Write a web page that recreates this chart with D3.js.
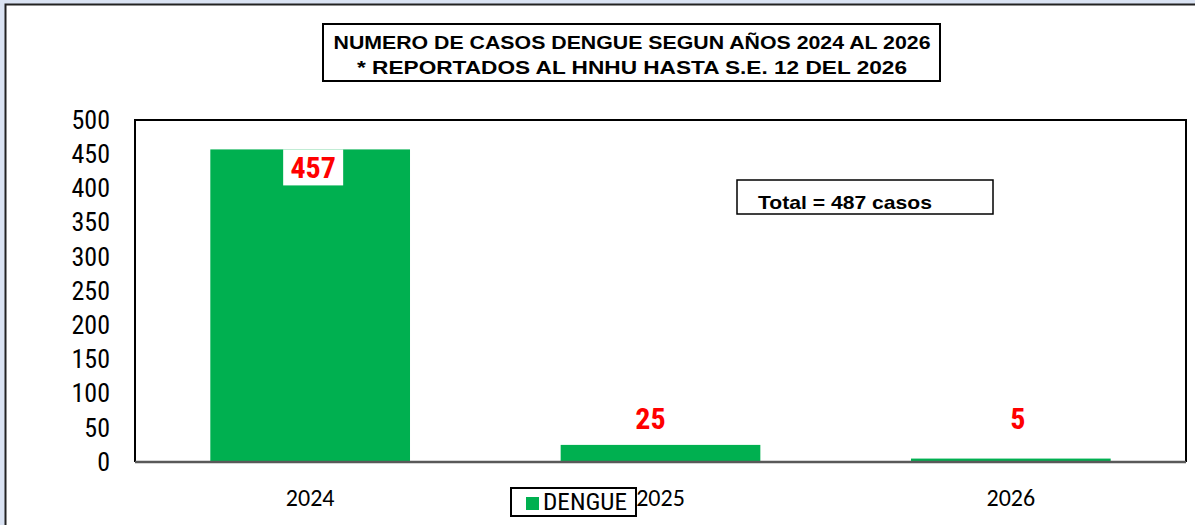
<!DOCTYPE html>
<html>
<head>
<meta charset="utf-8">
<script src="https://cdn.jsdelivr.net/npm/d3@7"></script>
<style>
  html, body { margin: 0; padding: 0; background: #dae3f3; }
  svg { display: block; }
</style>
</head>
<body>
<svg id="chart"></svg>
<script>
const years = ["2024", "2025", "2026"];
const casos = [457, 25, 5];
const yTicks = [0, 50, 100, 150, 200, 250, 300, 350, 400, 450, 500];
const titleLines = ["NUMERO DE CASOS DENGUE SEGUN AÑOS 2024 AL 2026", "* REPORTADOS AL HNHU HASTA S.E. 12 DEL 2026"];
const totalLabel = "Total = 487 casos";
const seriesName = "DENGUE";

const width = 1195, height = 525;
const plot = { left: 135, top: 120, right: 1186, bottom: 462 };
const green = "#00b050", red = "#ff0000";
const narrow = "'Liberation Sans Narrow', 'Arial Narrow', 'Roboto Condensed', sans-serif";
const arial = "'Liberation Sans', Arial, sans-serif";

const svg = d3.select("#chart").attr("width", width).attr("height", height);

// chart area (white, dark edge on left/top)
svg.append("rect").attr("x", 5.5).attr("y", 4.5).attr("width", width).attr("height", height)
    .attr("fill", "#fff").attr("stroke", "#222").attr("stroke-width", 2);

const x = d3.scaleBand().domain(years).range([plot.left, plot.right]).paddingInner(0.43).paddingOuter(0.215);
const y = d3.scaleLinear().domain([0, 500]).range([plot.bottom, plot.top]);

// plot frame
svg.append("path")
    .attr("d", `M${plot.left},${plot.bottom}V${plot.top}H${plot.right}V${plot.bottom}`)
    .attr("fill", "none").attr("stroke", "#000").attr("stroke-width", 2);

// y axis labels
const yAxis = svg.append("g").attr("transform", `translate(${plot.left},0)`)
    .call(d3.axisLeft(y).tickValues(yTicks).tickSize(0).tickPadding(25));
yAxis.select(".domain").remove();
yAxis.selectAll("text").attr("font-family", narrow).attr("font-size", 26).attr("fill", "#000");

// bars
svg.selectAll("rect.bar").data(years).enter().append("rect")
    .attr("class", "bar")
    .attr("x", d => x(d))
    .attr("width", x.bandwidth())
    .attr("y", (d, i) => y(casos[i]))
    .attr("height", (d, i) => y(0) - y(casos[i]))
    .attr("fill", green);

// x axis
const xAxis = svg.append("g").attr("transform", `translate(0,${plot.bottom})`)
    .call(d3.axisBottom(x).tickSize(0).tickPadding(27));
xAxis.select(".domain").attr("stroke", "#595959").attr("stroke-width", 2.5)
    .attr("d", `M${plot.left},0H${plot.right}`);
xAxis.selectAll("text").attr("font-family", "Carlito, 'Open Sans', sans-serif").attr("font-size", 24).attr("fill", "#000");

// value labels (placed by hand in the original)
const nudge = [3, -10, 7];
years.forEach((yr, i) => {
    const cx = x(yr) + x.bandwidth() / 2;
    const big = casos[i] > 100;
    if (big) {
        svg.append("rect").attr("x", cx - 27).attr("y", y(casos[i])).attr("width", 60).attr("height", 36).attr("fill", "#fff");
    }
    svg.append("text").attr("x", cx + nudge[i]).attr("y", big ? y(casos[i]) + 18 : 418).attr("dy", "0.35em")
        .attr("text-anchor", "middle").attr("font-family", narrow).attr("font-weight", "bold")
        .attr("font-size", 30).attr("fill", red).text(casos[i]);
});

// title box
svg.append("rect").attr("x", 323).attr("y", 24).attr("width", 617).attr("height", 57)
    .attr("fill", "#fff").attr("stroke", "#000").attr("stroke-width", 2);
const titleW = [597, 550];
titleLines.forEach((t, i) => {
    svg.append("text").attr("x", 632).attr("y", 43 + i * 25).attr("dy", "0.35em")
        .attr("text-anchor", "middle").attr("font-family", arial)
        .attr("font-weight", "bold").attr("font-size", 18.5)
        .attr("textLength", titleW[i]).attr("lengthAdjust", "spacingAndGlyphs")
        .attr("fill", "#000").text(t);
});

// total box
svg.append("rect").attr("x", 737).attr("y", 180).attr("width", 256).attr("height", 34)
    .attr("fill", "#fff").attr("stroke", "#000").attr("stroke-width", 1.5);
svg.append("text").attr("x", 758).attr("y", 203).attr("dy", "0.35em")
    .attr("font-family", arial).attr("font-weight", "bold")
    .attr("font-size", 18.5).attr("textLength", 174).attr("lengthAdjust", "spacingAndGlyphs")
    .attr("fill", "#000").text(totalLabel);

// legend
const lg = svg.append("g").attr("transform", "translate(511,488)");
lg.append("rect").attr("width", 125).attr("height", 28).attr("fill", "#fff").attr("stroke", "#000").attr("stroke-width", 2);
lg.append("rect").attr("x", 15).attr("y", 9).attr("width", 13).attr("height", 13).attr("fill", green);
lg.append("text").attr("x", 32).attr("y", 14).attr("dy", "0.35em")
    .attr("font-family", narrow).attr("font-size", 24).attr("textLength", 84).attr("lengthAdjust", "spacingAndGlyphs")
    .attr("fill", "#000").text(seriesName);
</script>
</body>
</html>
